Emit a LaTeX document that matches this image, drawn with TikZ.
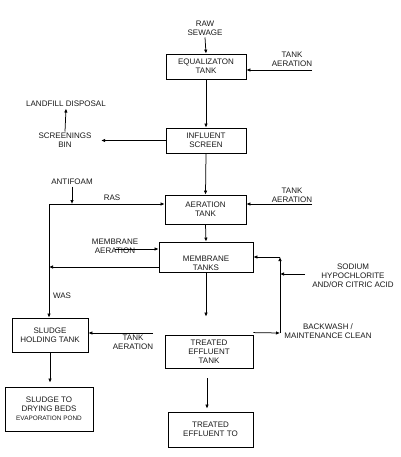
\documentclass[tikz,border=0pt]{standalone}
\usepackage{fontspec}
\setmainfont{Liberation Sans}
\usetikzlibrary{arrows.meta}

\begin{document}
\begin{tikzpicture}[x=1pt,y=-1pt,
  every node/.style={font=\fontsize{8}{9}\selectfont, text=black!90, align=center},
  tank/.style={draw, line width=0.8pt, inner sep=0pt},
  lbl/.style={inner sep=1.5pt},
  flow/.style={-{Latex[length=4pt,width=3.5pt]}, line width=0.75pt}]

\useasboundingbox (0,0) rectangle (400,457);

% Tanks
\node[tank, minimum width=80pt, minimum height=25pt] (eq) at (206,66.5) {EQUALIZATON\\TANK};
\node[tank, minimum width=80pt, minimum height=25pt] (infl) at (206,140.5) {INFLUENT\\SCREEN};
\node[tank, minimum width=81pt, minimum height=29pt] (aer) at (205.5,209.5) {AERATION\\TANK};
\node[tank, minimum width=94pt, minimum height=30pt] (memb) at (206,257) {};
\node[lbl] (membtxt) at (206,263.5) {MEMBRANE\\TANKS};
\node[tank, minimum width=76pt, minimum height=34pt] (sht) at (50,335) {SLUDGE\\HOLDING TANK};
\node[tank, minimum width=88pt, minimum height=44pt] (sdb) at (49,409)
  {SLUDGE TO\\DRYING BEDS\\\fontsize{6.4}{8}\selectfont EVAPORATION POND};
\node[tank, minimum width=88pt, minimum height=33pt] (tet) at (209,351.5) {TREATED\\EFFLUENT\\TANK};
\node[tank, minimum width=85pt, minimum height=35pt] (teo) at (210.5,429.5) {TREATED\\EFFLUENT TO};

% Labels
\node[lbl] (raw) at (205,28.5) {RAW\\SEWAGE};
\node[lbl] (tair1) at (292,59.5) {TANK\\AERATION};
\node[lbl] (land) at (66,104) {LANDFILL DISPOSAL};
\node[lbl] (scr) at (65,140.5) {SCREENINGS\\BIN};
\node[lbl] (anti) at (72,182) {ANTIFOAM};
\node[lbl] (ras) at (112,198) {RAS};
\node[lbl] (tair2) at (292,195) {TANK\\AERATION};
\node[lbl] (maer) at (115,246.5) {MEMBRANE\\AERATION};
\node[lbl] (sod) at (353,275.5) {SODIUM\\HYPOCHLORITE\\AND/OR CITRIC ACID};
\node[lbl] (was) at (62,296) {WAS};
\node[lbl] (tair3) at (133,342) {TANK\\AERATION};
\node[lbl] (back) at (328,331.5) {BACKWASH /\\MAINTENANCE CLEAN};

% Free ends and corners
\coordinate (ta1) at (312,70);
\coordinate (ta2) at (312,204);
\coordinate (ta3) at (153,333);
\coordinate (rasc) at (49,204);
\coordinate (ma) at (115,249);
\coordinate (sd) at (305,274);
\coordinate (bw) at (280,333);
\coordinate (bt) at (280,257);

% Main line
\draw[flow] (raw.south) -- (eq.north);
\draw[flow] (ta1) -- (ta1 -| eq.east);
\draw[flow] (eq.south) -- (infl.north);
\draw[flow, shorten >=8pt] (infl.west) -- (scr.east);
\draw[flow] (scr.north) -- (land.south);
\draw[flow] (infl.south) -- (aer.north);
\draw[flow] (ta2) -- (ta2 -| aer.east);
\draw[flow] (aer.south) -- (memb.north);
\draw[flow, shorten >=18pt] (memb.south) -- (memb.south |- tet.north);
\draw[flow, shorten <=10pt, shorten >=3pt] ([xshift=-2pt]tet.south) -- ([xshift=-2pt]tet.south |- teo.north);

% RAS / WAS
\draw[flow] (rasc) -- (rasc -| aer.west);
\draw[flow] (anti.south) -- (anti.south |- rasc);
\draw[flow] (rasc) -- (rasc |- sht.north);
\draw[flow] (ma) -- (ma -| memb.west);
\draw[flow] ([yshift=-10pt]memb.west) -- ([yshift=-10pt]memb.west -| rasc);
\draw[flow] (ta3) -- (ta3 -| sht.east);
\draw[flow, shorten >=4pt] (sht.south) -- (sht.south |- sdb.north);

% Backwash loop
\draw[flow] ([yshift=2pt]tet.north east) -- (bw);
\draw[flow] (bw) -- (bt);
\draw[flow] (bt) -- (memb.east);
\draw[flow] (sd) -- (sd -| bw);

\end{tikzpicture}
\end{document}
